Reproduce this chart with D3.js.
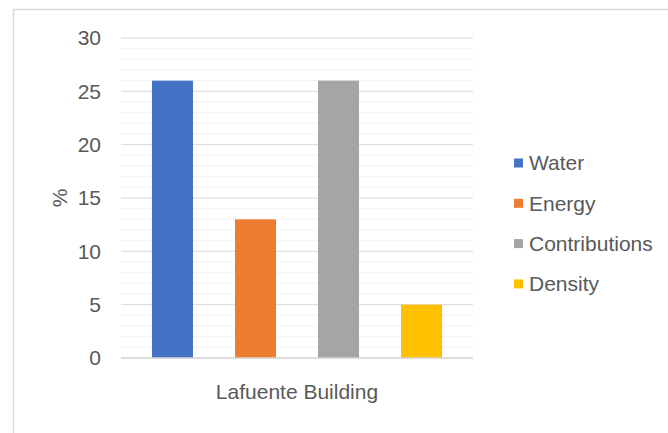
<!DOCTYPE html>
<html><head><meta charset="utf-8">
<script src="https://cdn.jsdelivr.net/npm/d3@7"></script>
<style>body{margin:0;background:#fff;}svg{display:block;font-family:"Liberation Sans",Arial,sans-serif;}</style>
</head><body>
<svg id="c" width="668" height="433"></svg>
<script>
const category = "Lafuente Building";
const series = ["Water", "Energy", "Contributions", "Density"];
const values = [26, 13, 26, 5];
const colors = ["#4472C4", "#ED7D31", "#A5A5A5", "#FFC000"];
const yTicks = [0, 5, 10, 15, 20, 25, 30];
const yLabel = "%";

(function () {
const svg = d3.select("#c");
const fs = 21;
// outer frame
svg.append("rect").attr("x", 13.5).attr("y", 9.5).attr("width", 700).attr("height", 500)
  .attr("fill", "none").attr("stroke", "#d9d9d9").attr("stroke-width", 1.5);

const pLeft = 121, pRight = 473, pTop = 38, pBottom = 358;
const y = d3.scaleLinear().domain([0, 30]).range([pBottom, pTop]);
const x0 = d3.scaleBand().domain([category]).range([pLeft, pRight]);
const x1 = d3.scaleBand().domain(series).range([x0(category), x0(category) + x0.bandwidth()]).paddingInner(0.506).paddingOuter(0.373);

// minor gridlines
const minor = d3.range(0, 31, 1).filter(v => v % 5 !== 0);
svg.append("g").selectAll("line").data(minor).join("line")
  .attr("x1", pLeft).attr("x2", pRight).attr("y1", d => y(d)).attr("y2", d => y(d))
  .attr("stroke", "#f2f2f2").attr("stroke-width", 1);
// major gridlines
svg.append("g").selectAll("line").data(yTicks).join("line")
  .attr("x1", pLeft).attr("x2", pRight).attr("y1", d => y(d)).attr("y2", d => y(d))
  .attr("stroke", "#d9d9d9").attr("stroke-width", 1);

// bars
svg.append("g").selectAll("rect").data(series).join("rect")
  .attr("x", d => x1(d)).attr("width", x1.bandwidth())
  .attr("y", (d, i) => y(values[i])).attr("height", (d, i) => y(0) - y(values[i]))
  .attr("fill", (d, i) => colors[i]);

// axis line at 0
svg.append("line").attr("x1", pLeft).attr("x2", pRight).attr("y1", y(0)).attr("y2", y(0))
  .attr("stroke", "#d9d9d9").attr("stroke-width", 1.5);

// y axis labels
const yAxis = d3.axisLeft(y).tickValues(yTicks).tickSize(0).tickPadding(0);
const gy = svg.append("g").attr("transform", `translate(101,0)`).call(yAxis);
gy.select(".domain").remove();
gy.selectAll("text").attr("font-size", fs).attr("fill", "#595959").attr("font-family", "Liberation Sans, Arial, sans-serif");

// y label
svg.append("text").attr("transform", `translate(67,${(pTop + pBottom) / 2}) rotate(-90)`)
  .attr("text-anchor", "middle").attr("font-size", fs).attr("fill", "#595959").text(yLabel);

// x category label
svg.append("text").attr("x", x0(category) + x0.bandwidth() / 2).attr("y", 399)
  .attr("text-anchor", "middle").attr("font-size", fs).attr("fill", "#595959").text(category);

// legend
const lg = svg.append("g").selectAll("g").data(series).join("g")
  .attr("transform", (d, i) => `translate(514,${163 + i * 40.3})`);
lg.append("rect").attr("x", 0).attr("y", -4.5).attr("width", 9).attr("height", 9).attr("fill", (d, i) => colors[i]);
lg.append("text").attr("x", 15).attr("y", 0).attr("dy", "0.35em").attr("font-size", fs).attr("fill", "#595959").text(d => d);
})();
</script>
</body></html>
